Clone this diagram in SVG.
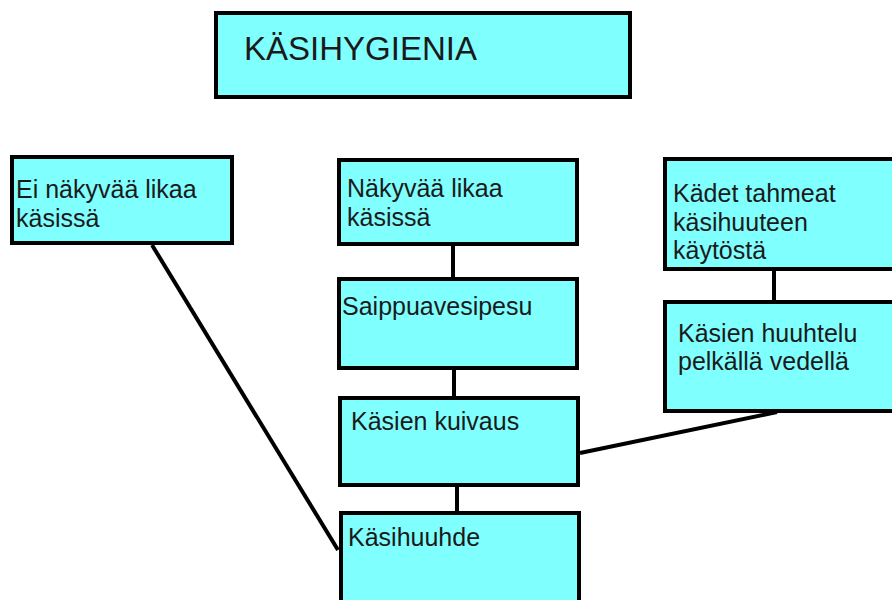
<svg xmlns="http://www.w3.org/2000/svg" width="892" height="600" viewBox="0 0 892 600">
<style>
.box{fill:#80ffff;stroke:#000;stroke-width:4}
.t{font-family:"Liberation Sans",Arial,sans-serif;font-size:25px;fill:#1a1a1a}
.title{font-size:33px}
.c{stroke:#000;stroke-width:4;fill:none}
</style>
<rect width="892" height="600" fill="#fff"/>
<g id="connectors">
<line class="c" x1="453" y1="245" x2="453" y2="278"/>
<line class="c" x1="454" y1="369" x2="454" y2="397"/>
<line class="c" x1="457" y1="486" x2="457" y2="512"/>
<line class="c" x1="774" y1="269" x2="774" y2="301"/>
<line class="c" x1="580" y1="453" x2="777" y2="412"/>
<line class="c" x1="152" y1="245" x2="338" y2="550"/>
</g>
<g id="title">
<rect class="box" x="216" y="13" width="414" height="84"/>
<text class="t title" x="244" y="60">KÄSIHYGIENIA</text>
</g>
<g id="ei-nakyvaa">
<rect class="box" x="12" y="157" width="220" height="86"/>
<text class="t" x="16" y="198">Ei näkyvää likaa</text>
<text class="t" x="16" y="227">käsissä</text>
</g>
<g id="nakyvaa">
<rect class="box" x="339" y="160" width="238" height="84"/>
<text class="t" x="347" y="197">Näkyvää likaa</text>
<text class="t" x="347" y="226">käsissä</text>
</g>
<g id="saippuavesipesu">
<rect class="box" x="339" y="279" width="238" height="89"/>
<text class="t" x="342" y="315">Saippuavesipesu</text>
</g>
<g id="kuivaus">
<rect class="box" x="340" y="398" width="238" height="87"/>
<text class="t" x="351" y="430">Käsien kuivaus</text>
</g>
<g id="kasihuuhde">
<rect class="box" x="341" y="513" width="238" height="100"/>
<text class="t" x="348" y="546">Käsihuuhde</text>
</g>
<g id="tahmeat">
<rect class="box" x="665" y="159" width="240" height="110"/>
<text class="t" x="673" y="202">Kädet tahmeat</text>
<text class="t" x="673" y="231">käsihuuteen</text>
<text class="t" x="673" y="259">käytöstä</text>
</g>
<g id="huuhtelu">
<rect class="box" x="665" y="302" width="240" height="109"/>
<text class="t" x="678" y="342">Käsien huuhtelu</text>
<text class="t" x="678" y="370">pelkällä vedellä</text>
</g>
</svg>
